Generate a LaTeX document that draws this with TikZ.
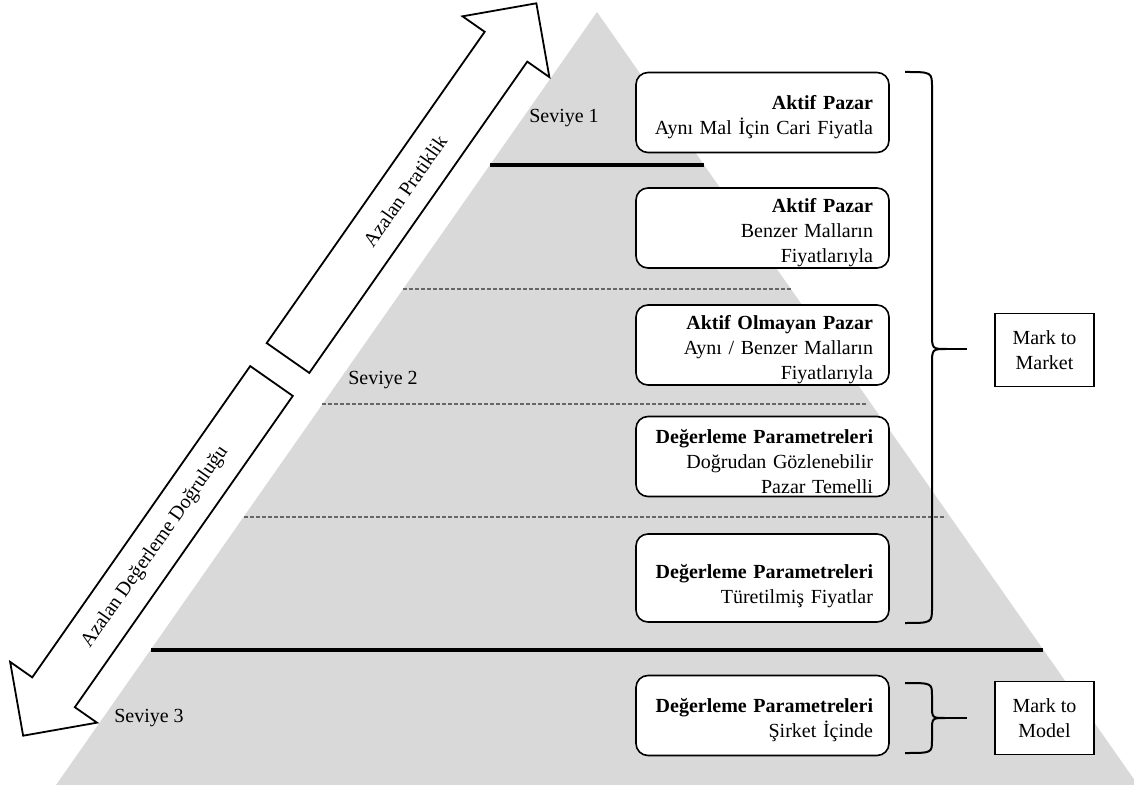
\documentclass[tikz,border=0pt]{standalone}
\usepackage{fontspec}
\setmainfont{Liberation Serif}

\begin{document}
\begin{tikzpicture}[x=0.5pt, y=-0.5pt, font=\fontsize{10}{12.5}\selectfont,
    kutu/.style={draw, line width=0.8pt, rounded corners=6pt, fill=white, text width=110.5pt,
      inner xsep=8pt, inner ysep=0pt, align=right, minimum height=40pt,
      execute at begin node=\rule{0pt}{12pt}},
    sonuc/.style={draw, line width=0.8pt, fill=white, minimum width=49.5pt, minimum height=36.5pt,
      inner sep=0pt, align=center},
    ayrac/.style={line width=2pt},
    kesik/.style={black!60, line width=0.6pt, dash pattern=on 2pt off 1pt},
    ok/.style={draw, fill=white, line width=0.9pt, line join=miter},
    parantez/.style={line width=1pt}]
	\useasboundingbox (0,0) rectangle (1134,785);
	% piramit
	\fill[black!15] (597,12) -- (56,785) -- (1138,785) -- cycle;
	\draw[ayrac] (490,165) -- (704,165);
	\draw[ayrac] (151,650) -- (1043,650);
	\draw[kesik] (403,289) -- (792,289);
	\draw[kesik] (322,404) -- (866,404);
	\draw[kesik] (244,517) -- (946,517);
	\node (sev1) at (564,118) {Seviye 1};
	\node (sev2) at (383,380) {Seviye 2};
	\node (sev3) at (149,718) {Seviye 3};
	% oklar
	\begin{scope}[shift={(288,358)}, rotate=55]
		\draw[ok] (0,-26) -- (380,-26) -- (380,-53) -- (433,0) -- (380,53) -- (380,26) -- (0,26) -- cycle;
		\node[rotate=55] (pratik) at (204,0) {Azalan Pratiklik};
	\end{scope}
	\begin{scope}[shift={(271.5,381)}, rotate=235]
		\draw[ok] (0,-26) -- (380,-26) -- (380,-53) -- (433,0) -- (380,53) -- (380,26) -- (0,26) -- cycle;
		\node[rotate=55] (dogruluk) at (203,0) {Azalan Değerleme Doğruluğu};
	\end{scope}
	% kutular
	\node[kutu] (k1) at (762.5,112.5) {\textbf{Aktif Pazar}\\Aynı Mal İçin Cari Fiyatla};
	\node[kutu] (k2) at (762.5,228) {\textbf{Aktif Pazar}\\Benzer Malların\\Fiyatlarıyla};
	\node[kutu] (k3) at (762.5,345) {\textbf{Aktif Olmayan Pazar}\\Aynı / Benzer Malların\\Fiyatlarıyla};
	\node[kutu] (k4) at (762.5,456.5) {\textbf{Değerleme Parametreleri}\\Doğrudan Gözlenebilir\\Pazar Temelli};
	\node[kutu, minimum height=44pt, execute at begin node=\rule{0pt}{15pt}] (k5) at (762.5,578) {\textbf{Değerleme Parametreleri}\\Türetilmiş Fiyatlar};
	\node[kutu] (k6) at (762.5,715.5) {\textbf{Değerleme Parametreleri}\\Şirket İçinde};
	% parantezler
	\coordinate (p1uc) at (947,349);
	\coordinate (p1son) at (967,349);
	\coordinate (p2uc) at (945,718);
	\coordinate (p2son) at (967,718);
	\draw[parantez] (905,72) .. controls (932,72) .. (932,88) -- (932,333) .. controls (932,349) .. (p1uc)
		.. controls (932,349) .. (932,365) -- (932,607) .. controls (932,623) .. (905,623);
	\draw[parantez] (905,683) .. controls (932,683) .. (932,696) -- (932,705) .. controls (932,718) .. (p2uc)
		.. controls (932,718) .. (932,731) -- (932,740) .. controls (932,753) .. (905,753);
	\draw[parantez] (p1uc) -- (p1son);
	\draw[parantez] (p2uc) -- (p2son);
	\node[sonuc] (mtm) at (1044.5,350) {Mark to\\Market};
	\node[sonuc] (mtmo) at (1044.5,718) {Mark to\\Model};
\end{tikzpicture}
\end{document}
